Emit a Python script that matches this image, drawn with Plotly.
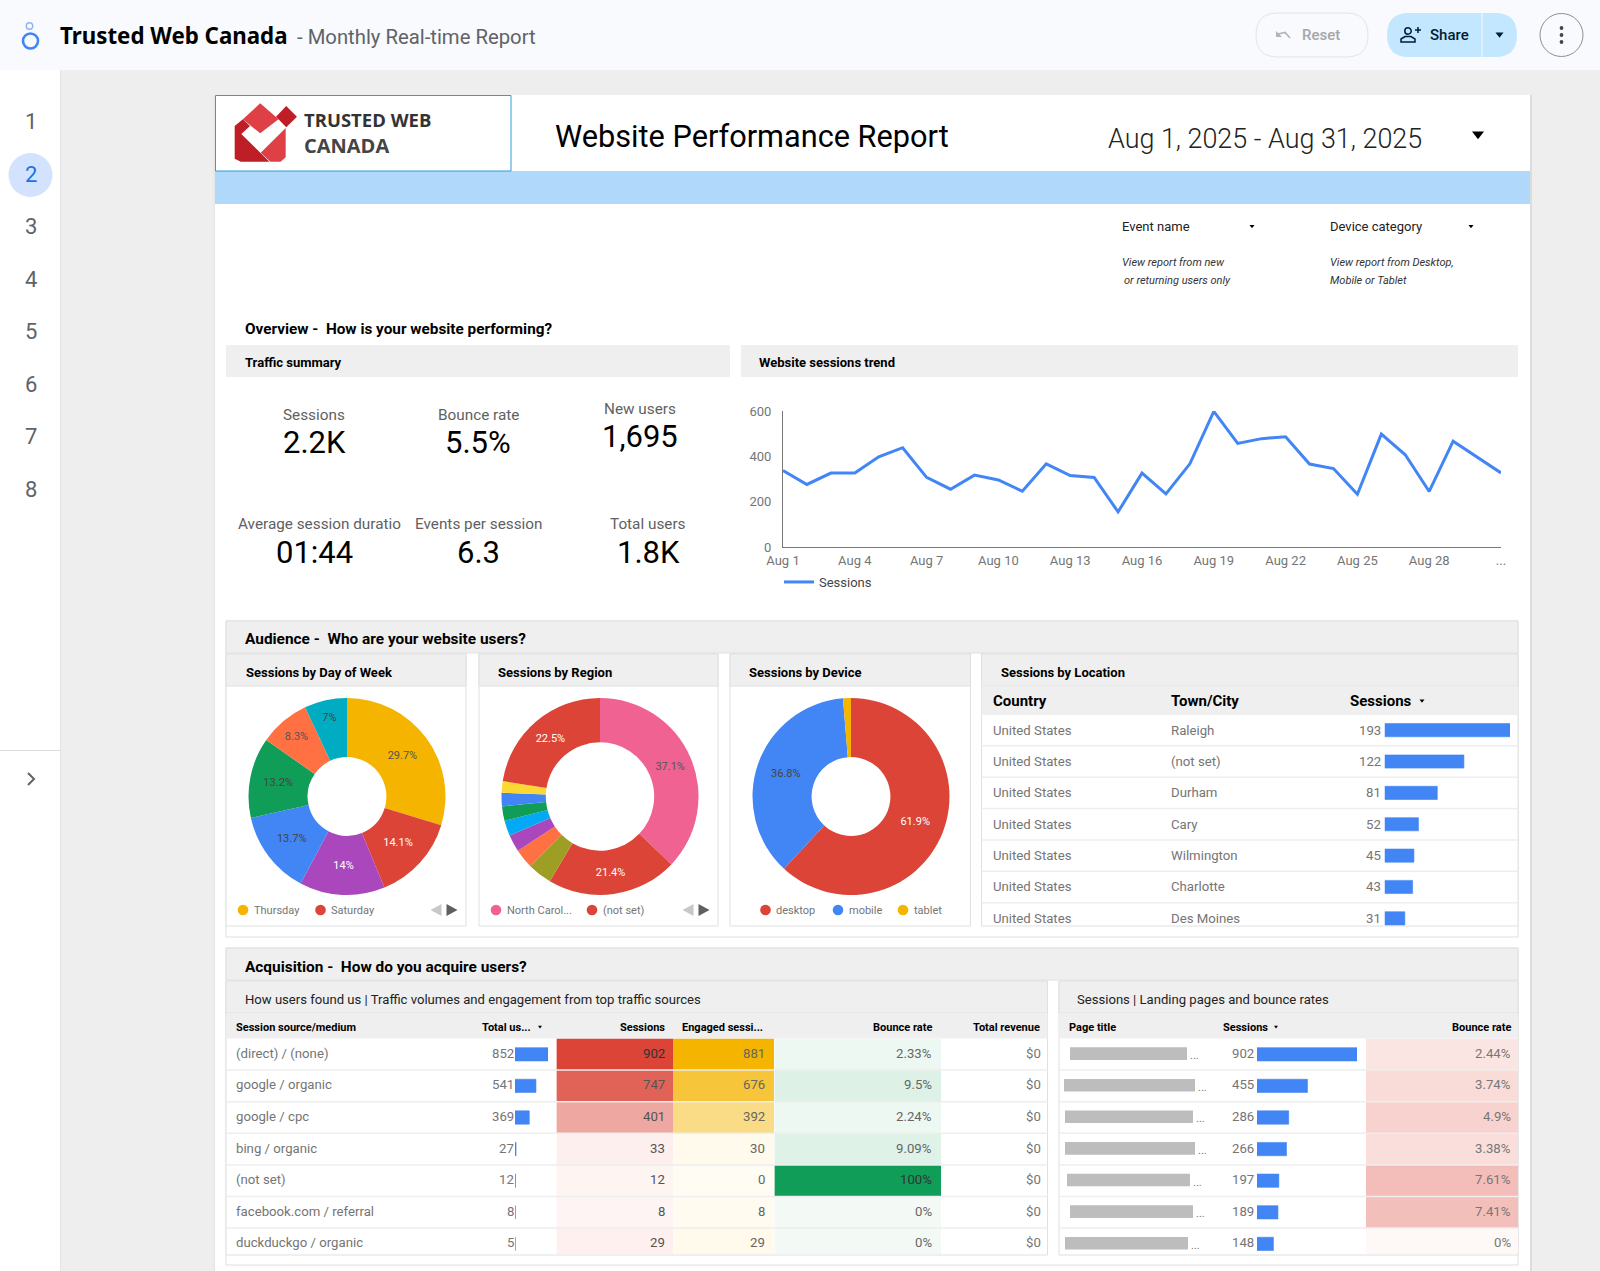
import plotly.graph_objects as go

W, H = 1600, 1271

# Sessions trend
days = [f"Aug {d}" for d in range(1, 32)]
daily_sessions = [337, 276, 326, 326, 398, 438, 307, 255, 317, 296, 246, 367, 315, 307, 155, 326,
                  234, 367, 598, 457, 478, 486, 366, 346, 233, 498, 407, 245, 467, 398, 327]
tick_days = days[0:30:3] + [days[30]]
tick_labels = days[0:30:3] + ["..."]

# KPI tiles
kpi_labels = ["Sessions", "Bounce rate", "New users", "Average session duratio", "Events per session", "Total users"]
kpi_values = ["2.2K", "5.5%", "1,695", "01:44", "6.3", "1.8K"]

# Pies
week_days = ["Thursday", "Saturday", "Friday", "Wednesday", "Tuesday", "Monday", "Sunday"]
week_share = [29.7, 14.1, 14, 13.7, 13.2, 8.3, 7]
week_colors = ["#F4B400", "#DB4437", "#AB47BC", "#4285F4", "#0F9D58", "#FF7043", "#00ACC1"]
week_text_colors = ["#555", "#fff", "#fff", "#444", "#444", "#555", "#444"]

regions = ["North Carolina", "(not set)", "Region 3", "Region 4", "Region 5", "Region 6",
           "Region 7", "Region 8", "Region 9", "Region 10"]
region_share = [37.1, 21.4, 4.0, 3.2, 2.8, 2.5, 2.4, 2.2, 1.9, 22.5]
region_colors = ["#F06292", "#DB4437", "#9E9D24", "#FF7043", "#AB47BC", "#03A9F4",
                 "#0F9D58", "#4285F4", "#FDD835", "#DB4437"]
region_text_colors = ["#555", "#fff", "#fff", "#fff", "#fff", "#fff", "#fff", "#fff", "#fff", "#fff"]

devices = ["desktop", "mobile", "tablet"]
device_share = [61.9, 36.8, 1.3]
device_colors = ["#DB4437", "#4285F4", "#F4B400"]
device_text_colors = ["#fff", "#444", "#444"]

# Sessions by location
loc_country = ["United States"] * 7
loc_city = ["Raleigh", "(not set)", "Durham", "Cary", "Wilmington", "Charlotte", "Des Moines"]
loc_sessions = [193, 122, 81, 52, 45, 43, 31]

# Acquisition table
acq_source = ["(direct) / (none)", "google / organic", "google / cpc", "bing / organic", "(not set)",
              "facebook.com / referral", "duckduckgo / organic"]
acq_users = [852, 541, 369, 27, 12, 8, 5]
acq_sessions = [902, 747, 401, 33, 12, 8, 29]
acq_engaged = [881, 676, 392, 30, 0, 8, 29]
acq_bounce = [2.33, 9.5, 2.24, 9.09, 100, 0, 0]
acq_bounce_text = ["2.33%", "9.5%", "2.24%", "9.09%", "100%", "0%", "0%"]
acq_revenue = ["$0"] * 7

# Landing pages table
page_sessions = [902, 455, 286, 266, 197, 189, 148]
page_bounce = [2.44, 3.74, 4.9, 3.38, 7.61, 7.41, 0]
page_bounce_text = ["2.44%", "3.74%", "4.9%", "3.38%", "7.61%", "7.41%", "0%"]

GREY = "#757575"
BAR = "#EFEFEF"
EDGE = "#E0E0E0"
BLUE = "#4285F4"

shapes = []
notes = []


def px(x):
    return x / W


def py(y):
    return 1 - y / H


def rect(x0, y0, x1, y1, fill="rgba(0,0,0,0)", line=None, lw=1):
    shapes.append(dict(type="rect", xref="paper", yref="paper", x0=px(x0), x1=px(x1), y0=py(y0), y1=py(y1),
                       fillcolor=fill, line=dict(color=line or "rgba(0,0,0,0)", width=lw if line else 0),
                       layer="below"))


def disc(cx, cy, r, fill="rgba(0,0,0,0)", line=None, lw=1, layer="below"):
    shapes.append(dict(type="circle", xref="paper", yref="paper", x0=px(cx - r), x1=px(cx + r), y0=py(cy - r),
                       y1=py(cy + r), fillcolor=fill, line=dict(color=line or "rgba(0,0,0,0)", width=lw if line else 0),
                       layer=layer))


def poly(points, fill="rgba(0,0,0,0)", line=None, lw=1, close=True):
    path = "M " + " L ".join(f"{px(a):.5f},{py(b):.5f}" for a, b in points) + (" Z" if close else "")
    shapes.append(dict(type="path", xref="paper", yref="paper", path=path, fillcolor=fill,
                       line=dict(color=line or "rgba(0,0,0,0)", width=lw if line else 0), layer="above"))


def pill(x0, y0, x1, y1, fill, line=None):
    r = (y1 - y0) / 2
    path = (f"M {px(x0 + r)},{py(y0)} L {px(x1 - r)},{py(y0)} "
            f"Q {px(x1)},{py(y0)} {px(x1)},{py(y0 + r)} Q {px(x1)},{py(y1)} {px(x1 - r)},{py(y1)} "
            f"L {px(x0 + r)},{py(y1)} Q {px(x0)},{py(y1)} {px(x0)},{py(y0 + r)} "
            f"Q {px(x0)},{py(y0)} {px(x0 + r)},{py(y0)} Z")
    shapes.append(dict(type="path", xref="paper", yref="paper", path=path, fillcolor=fill,
                       line=dict(color=line or "rgba(0,0,0,0)", width=1 if line else 0), layer="below"))


def txt(x, y, s, size=13, color="#000", anchor="left", weight=400, family="Roboto", style="normal", yref="paper",
        yshift=0):
    notes.append(dict(x=px(x), y=py(y) if yref == "paper" else y, xref="paper", yref=yref, text=s, showarrow=False,
                      xanchor=anchor, yanchor="middle", borderpad=0, yshift=yshift,
                      font=dict(size=size, color=color, family=family, weight=weight, style=style)))


def arrow_down(cx, cy, half, color="#000"):
    poly([(cx - half, cy - half * 0.6), (cx + half, cy - half * 0.6), (cx, cy + half * 0.7)], fill=color)


# page chrome
rect(0, 70, 61, H, "#FFFFFF")
rect(60, 70, 61, H, "#E4E4E4")
rect(0, 750, 61, 751, "#DDDDDD")
rect(0, 0, W, 70, "#F8FAFD")
rect(213.5, 95, 215, H, "#E6E6E6")
rect(1530, 95, 1532, H, "#DCDCDC")
rect(215, 95, 1530, H, "#FFFFFF")
rect(215, 171, 1530, 204, "#AFD8FA")
rect(215.5, 95.5, 511, 171, "#FFFFFF", "#2A9FD8")

# app bar
disc(30.5, 41, 7.5, line=BLUE, lw=2.6)
disc(29.5, 26, 3.2, line="#8AB4F8", lw=1.4)
txt(59, 36, "Trusted Web Canada", size=22.3, weight=700, family="Noto Sans")
txt(296, 37, "- Monthly Real-time Report", size=20.3, color="#5F6368")

pill(1256, 13, 1368, 57, "#F8FAFD", "#E3E3E3")
poly([(1276, 31), (1276, 37), (1282, 37)], fill="#B0B3B8")
poly([(1278, 34), (1285, 32.5), (1290, 38)], line="#B0B3B8", lw=1.6, close=False)
txt(1301, 35, "Reset", size=15, color="#A3A6AA", weight=500)
pill(1387, 13, 1517, 57, "#C2E7FF")
rect(1481.5, 13, 1482.5, 57, "#F8FAFD")
disc(1408, 31, 3.2, line="#001D35", lw=1.5, layer="above")
poly([(1401, 42), (1401, 39), (1405, 36.5), (1411, 36.5), (1415, 39), (1415, 42)], line="#001D35", lw=1.5)
poly([(1415, 30), (1421, 30)], line="#001D35", lw=1.5, close=False)
poly([(1418, 27), (1418, 33)], line="#001D35", lw=1.5, close=False)
txt(1429, 35, "Share", size=15, color="#001D35", weight=500)
arrow_down(1499.5, 35, 4, "#001D35")
disc(1561.5, 35, 21.5, "#F8FAFD", "#8E8E8E")
for dy in (-7, 0, 7):
    disc(1561.5, 35 + dy, 1.9, "#444746", layer="above")

# page rail
disc(30.5, 175, 22, "#D3E3FD")
for i, y in enumerate([121, 174, 226.7, 279.3, 331.7, 384, 436.5, 489]):
    txt(30.5, y, str(i + 1), size=22, color="#1A73E8" if i == 1 else "#5F6368", anchor="center")
poly([(28, 773), (34, 779), (28, 785)], line="#5F6368", lw=2, close=False)

# logo
def logo(points, fill):
    poly([(a / 1.96, b / 3) for a, b in points], fill=fill)


logo([(510, 310), (546, 358), (510, 400), (476, 358)], "#DE4046")
logo([(460, 378), (476, 358), (490, 378), (473, 402), (528, 485), (472, 485), (460, 476)], "#BE1E26")
logo([(511, 458), (560, 384), (560, 472), (550, 485), (530, 485)], "#DE4046")
logo([(561, 318), (582, 350), (561, 382), (541, 350)], "#BE1E26")
txt(303, 119, "TRUSTED WEB", size=18.5, color="#333", weight=700, family="Open Sans")
txt(303, 145, "CANADA", size=20, color="#444", weight=700, family="Open Sans")

txt(554, 136, "Website Performance Report", size=30.7)
txt(1107, 138.5, "Aug 1, 2025 - Aug 31, 2025", size=26.9, color="#222", weight=300)
arrow_down(1478, 135, 6)

# filters
txt(1121, 226.5, "Event name", size=13, color="#222")
arrow_down(1252, 226.5, 2.5)
txt(1329, 226.5, "Device category", size=13, color="#222")
arrow_down(1471, 226.5, 2.5)
txt(1120.5, 262, "View report from new", size=11, color="#333", style="italic")
txt(1123, 280, "or returning users only", size=11, color="#333", style="italic")
txt(1329, 262, "View report from Desktop,", size=11, color="#333", style="italic")
txt(1329, 280, "Mobile or Tablet", size=11, color="#333", style="italic")

# overview
txt(243.5, 328.5, "Overview -  How is your website performing?", size=15.3, weight=700)
rect(226, 345, 730, 377, BAR)
rect(741, 345, 1518, 377, BAR)
txt(243.5, 362.5, "Traffic summary", size=13, weight=700)
txt(758, 362.5, "Website sessions trend", size=13, weight=700)

kpi_label_pos = [(314, 415), (478, 415), (640, 409), (319, 524.5), (478, 524.5), (648, 524.5)]
kpi_value_pos = [(314, 442), (478, 442), (640, 437), (314, 552), (478, 552), (648, 552)]
for label, value, (lx, ly), (vx, vy) in zip(kpi_labels, kpi_values, kpi_label_pos, kpi_value_pos):
    txt(lx, ly, label, size=15.3, color="#616161", anchor="center")
    txt(vx, vy, value, size=31, color="#000", anchor="center")

# audience section
rect(226, 621, 1518, 937, "#FFFFFF", EDGE)
rect(226, 621, 1518, 653, BAR, EDGE)
txt(244, 638.5, "Audience -  Who are your website users?", size=15.4, weight=700)
panels = [(226, 466, 244.5, "Sessions by Day of Week"), (479, 718, 496.5, "Sessions by Region"),
          (730, 970.5, 748, "Sessions by Device"), (981.5, 1518, 1000, "Sessions by Location")]
for x0, x1, tx, title in panels:
    rect(x0, 654, x1, 926, "#FFFFFF", EDGE)
    rect(x0, 654, x1, 686, BAR, EDGE)
    txt(tx, 672, title, size=13, weight=700)


def pie_legend(items):
    for mx, label, color in items:
        disc(mx, 910, 5.3, color)
        txt(mx + 9.5, 910, label, size=11, color=GREY)


pie_legend([(243, week_days[0], week_colors[0]), (320.5, week_days[1], week_colors[1])])
pie_legend([(496, "North Carol...", region_colors[0]), (592, regions[1], region_colors[1])])
pie_legend([(765.5, devices[0], device_colors[0]), (838, devices[1], device_colors[1]), (903, devices[2], device_colors[2])])
for ax in (436.5, 688.5):
    poly([(ax + 5, 904), (ax + 5, 916), (ax - 6, 910)], fill="#C8C8C8")
    poly([(ax + 10, 904), (ax + 10, 916), (ax + 21, 910)], fill="#5F5F5F")

# location table
rect(981.5, 686, 1518, 715, BAR)
txt(992, 701, "Country", size=15, weight=700)
txt(1170, 701, "Town/City", size=15, weight=700)
txt(1349, 701, "Sessions", size=15, weight=700)
arrow_down(1422, 701, 2.5)
for r in range(7):
    txt(992, r, loc_country[r], size=13.2, color=GREY, yref="y2")
    txt(1170, r, loc_city[r], size=13.2, color=GREY, yref="y2")
    txt(1381.5, r, str(loc_sessions[r]), size=13.2, color=GREY, anchor="right", yref="y2")
    if r < 6:
        shapes.append(dict(type="line", xref="paper", yref="y2", x0=px(981.5), x1=px(1518), y0=r + 0.5, y1=r + 0.5,
                           line=dict(color="#EEEEEE", width=1.5), layer="above"))

# acquisition section
rect(226, 948, 1518, 1265, "#FFFFFF", EDGE)
rect(226, 948, 1518, 980, BAR, EDGE)
txt(244, 967, "Acquisition -  How do you acquire users?", size=15.4, weight=700)
rect(226, 981, 1047.5, 1255, "#FFFFFF", EDGE)
rect(226, 981, 1047.5, 1013, BAR, EDGE)
rect(226, 1014, 1047.5, 1038.5, BAR)
txt(244, 999.5, "How users found us | Traffic volumes and engagement from top traffic sources", size=13.1, color="#222")
txt(235, 1027, "Session source/medium", size=11, weight=700)
txt(481, 1027, "Total us...", size=11, weight=700)
arrow_down(540, 1027, 2)
txt(665.5, 1027, "Sessions", size=11, weight=700, anchor="right")
txt(764, 1027, "Engaged sessi...", size=11, weight=700, anchor="right")
txt(933, 1027, "Bounce rate", size=11, weight=700, anchor="right")
txt(1041, 1027, "Total revenue", size=11, weight=700, anchor="right")
for r in range(7):
    txt(235, r, acq_source[r], size=13.2, color=GREY, yref="y3", yshift=1)
    txt(514.5, r, str(acq_users[r]), size=13.2, color=GREY, anchor="right", yref="y3", yshift=1)
    txt(665.5, r, str(acq_sessions[r]), size=13.2, color="#333" if r == 0 else "#555", anchor="right", yref="y3", yshift=1)
    txt(766, r, str(acq_engaged[r]), size=13.2, color="#666", anchor="right", yref="y3", yshift=1)
    txt(933, r, acq_bounce_text[r], size=13.2, color="#333" if acq_bounce[r] == 100 else "#666", anchor="right",
        yref="y3", yshift=1)
    txt(1042, r, acq_revenue[r], size=13.2, color=GREY, anchor="right", yref="y3", yshift=1)
    if r < 6:
        shapes.append(dict(type="line", xref="paper", yref="y3", x0=px(226), x1=px(1047.5), y0=r + 0.5, y1=r + 0.5,
                           line=dict(color="#EEEEEE", width=1.5), layer="above"))

# landing pages table
rect(1059, 981, 1518, 1255, "#FFFFFF", EDGE)
rect(1059, 981, 1518, 1013, BAR, EDGE)
rect(1059, 1014, 1518, 1038.5, BAR)
txt(1076, 999.5, "Sessions | Landing pages and bounce rates", size=13.1, color="#222")
txt(1068, 1027, "Page title", size=11, weight=700)
txt(1221.5, 1027, "Sessions", size=11, weight=700)
arrow_down(1276, 1027, 2)
txt(1511.5, 1027, "Bounce rate", size=11, weight=700, anchor="right")
hidden_titles = [(1070, 1187), (1064, 1195), (1065, 1193), (1065, 1195), (1067, 1190), (1070, 1193), (1065, 1188)]
for r in range(7):
    cy = 1053.6 + r * 31.6
    rect(hidden_titles[r][0], cy - 6.3, hidden_titles[r][1], cy + 6.3, "#BDBDBD")
    txt(hidden_titles[r][1] + 2, cy + 2, "...", size=11, color=GREY)
    txt(1254.5, r, str(page_sessions[r]), size=13.2, color=GREY, anchor="right", yref="y4", yshift=1)
    txt(1512, r, page_bounce_text[r], size=13.2, color="#777", anchor="right", yref="y4", yshift=1)
    if r < 6:
        shapes.append(dict(type="line", xref="paper", yref="y4", x0=px(1059), x1=px(1518), y0=r + 0.5, y1=r + 0.5,
                           line=dict(color="#EEEEEE", width=1.5), layer="above"))

fig = go.Figure()

fig.add_trace(go.Scatter(x=days, y=daily_sessions, mode="lines", name="Sessions", hoverinfo="skip",
                         line=dict(color=BLUE, width=3)))


def add_pie(labels, values, colors, text_colors, cx, hole):
    fig.add_trace(go.Pie(labels=labels, values=values, sort=False, direction="clockwise", rotation=0, hole=hole,
                         marker=dict(colors=colors, line=dict(width=0)), showlegend=False, hoverinfo="skip",
                         text=[f"{v}%" if v > 5 else "" for v in values], textinfo="text", textposition="inside",
                         insidetextorientation="horizontal",
                         insidetextfont=dict(size=11, color=text_colors, family="Roboto"),
                         domain=dict(x=[px(cx - 98.5), px(cx + 98.5)], y=[py(796.5 + 98.5), py(796.5 - 98.5)])))


add_pie(week_days, week_share, week_colors, week_text_colors, 347, 0.4)
add_pie(regions, region_share, region_colors, region_text_colors, 600, 0.55)
add_pie(devices, device_share, device_colors, device_text_colors, 851, 0.4)

rows = list(range(7))


def hbar(values, xa, ya):
    fig.add_trace(go.Bar(x=values, y=rows, orientation="h", width=0.42, xaxis=xa, yaxis=ya, showlegend=False,
                         hoverinfo="skip", marker=dict(color=BLUE, line=dict(color=BLUE, width=0.6))))


def heat(values, xa, ya, low, high, zmax):
    fig.add_trace(go.Heatmap(z=[[v] for v in values], x=[0], y=rows, xaxis=xa, yaxis=ya, showscale=False,
                             hoverinfo="skip", zmin=0, zmax=zmax, colorscale=[[0, low], [1, high]]))


hbar(loc_sessions, "x2", "y2")
heat(acq_sessions, "x4", "y3", "#FEF6F5", "#DB4437", 902)
heat(acq_engaged, "x5", "y3", "#FFFCF3", "#F4B400", 881)
heat(acq_bounce, "x6", "y3", "#F3FAF6", "#0F9D58", 100)
hbar(acq_users, "x3", "y3")
heat(page_bounce, "x8", "y4", "#FEF8F6", "#F3BDB9", 7.61)
hbar(page_sessions, "x7", "y4")


def hidden_x(x0, x1, rng, anchor):
    return dict(visible=False, domain=[px(x0), px(x1)], range=rng, anchor=anchor, fixedrange=True)


def hidden_y(y0, y1, rng):
    return dict(visible=False, domain=[py(y1), py(y0)], range=rng, anchor="free", position=0, fixedrange=True)


fig.update_layout(
    template="none",
    width=W, height=H, margin=dict(l=0, r=0, t=0, b=0, pad=0),
    paper_bgcolor="#EEEEEE", plot_bgcolor="rgba(0,0,0,0)",
    font=dict(family="Roboto", color=GREY),
    shapes=shapes, annotations=notes,
    legend=dict(x=px(779), y=py(582), xanchor="left", yanchor="middle", bgcolor="rgba(0,0,0,0)",
                font=dict(size=13, color="#444", family="Roboto"), itemwidth=30),
    xaxis=dict(domain=[px(783), px(1501)], type="category", categoryorder="array", categoryarray=days, range=[0, 30],
               tickmode="array", tickvals=tick_days, ticktext=tick_labels, showgrid=False, showline=True,
               linecolor="#777777", linewidth=1, ticks="", ticklabelstandoff=1, tickfont=dict(size=13, color=GREY),
               fixedrange=True),
    yaxis=dict(domain=[py(547), py(411)], range=[0, 600], tickvals=[0, 200, 400, 600], showgrid=False, zeroline=False,
               showline=True, linecolor="#777777", linewidth=1, ticks="", ticklabelstandoff=8,
               tickfont=dict(size=13, color=GREY), fixedrange=True),
    xaxis2=hidden_x(1384.7, 1510, [0, 193], "y2"),
    yaxis2=hidden_y(714.5, 934, [6.5, -0.5]),
    xaxis3=hidden_x(515, 548, [0, 852], "y3"),
    yaxis3=hidden_y(1038.5, 1254, [6.32, -0.5]),
    xaxis4=hidden_x(556.4, 673, [-0.5, 0.5], "y3"),
    xaxis5=hidden_x(673, 774.4, [-0.5, 0.5], "y3"),
    xaxis6=hidden_x(774.4, 941, [-0.5, 0.5], "y3"),
    yaxis4=hidden_y(1038.5, 1254, [6.32, -0.5]),
    xaxis7=hidden_x(1257, 1357, [0, 902], "y4"),
    xaxis8=hidden_x(1366, 1518, [-0.5, 0.5], "y4"),
)

fig.write_html("out.html", config=dict(displayModeBar=False),
               post_script="document.body.style.margin='0';document.body.style.overflow='hidden';")
